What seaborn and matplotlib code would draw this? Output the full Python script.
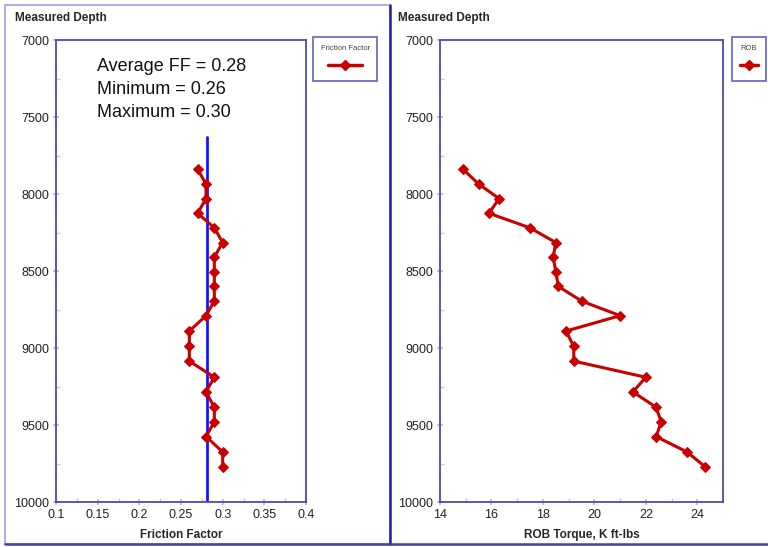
import pandas as pd
import matplotlib.pyplot as plt
import seaborn as sns
from matplotlib.lines import Line2D
from matplotlib.ticker import MultipleLocator

sns.set_theme(style="white")
plt.rcParams['font.family'] = ['Liberation Sans', 'DejaVu Sans']

# depth readings (ft) and the two logs
depth = [7840, 7935, 8030, 8125, 8220, 8315, 8410, 8505, 8600, 8695, 8790,
         8890, 8990, 9085, 9190, 9285, 9385, 9480, 9575, 9675, 9770]
friction = [0.27, 0.28, 0.28, 0.27, 0.29, 0.30, 0.29, 0.29, 0.29, 0.29, 0.28,
            0.26, 0.26, 0.26, 0.29, 0.28, 0.29, 0.29, 0.28, 0.30, 0.30]
rob_torque = [14.9, 15.5, 16.3, 15.9, 17.5, 18.5, 18.4, 18.5, 18.6, 19.5, 21.0,
              18.9, 19.2, 19.2, 22.0, 21.5, 22.4, 22.6, 22.4, 23.6, 24.3]
avg_ff = 0.281
avg_top = 7630

df = pd.DataFrame({'depth': depth, 'ff': friction, 'rob': rob_torque})

RED = '#c80000'
FRAME = '#4a4ab8'

fig = plt.figure(figsize=(7.68, 5.47), dpi=100)
ax1 = fig.add_axes([56/768, 1 - 502/547, 250/768, 462/547])
ax2 = fig.add_axes([440/768, 1 - 502/547, 283/768, 462/547])

line_kw = dict(orient='y', sort=False, estimator=None, color=RED, linewidth=2.2,
               marker='D', markersize=5, markeredgecolor=RED, legend=False)
sns.lineplot(data=df, x='ff', y='depth', ax=ax1, **line_kw)
sns.lineplot(data=df, x='rob', y='depth', ax=ax2, **line_kw)

ax1.plot([avg_ff, avg_ff], [avg_top, 10000], color='#1515ff', linewidth=2, zorder=1)

ax1.set_xlim(0.1, 0.4)
ax1.xaxis.set_minor_locator(MultipleLocator(0.025))
ax1.set_xticks([0.1, 0.15, 0.2, 0.25, 0.3, 0.35, 0.4])
ax1.set_xticklabels(['0.1', '0.15', '0.2', '0.25', '0.3', '0.35', '0.4'])
ax2.set_xlim(14, 25)
ax2.set_xticks([14, 16, 18, 20, 22, 24])
ax2.xaxis.set_minor_locator(MultipleLocator(1))

for ax, xl in [(ax1, 'Friction Factor'), (ax2, 'ROB Torque, K ft-lbs')]:
    ax.set_ylim(10000, 7000)
    ax.set_yticks(range(7000, 10001, 500))
    ax.yaxis.set_minor_locator(MultipleLocator(250))
    ax.tick_params(axis='both', which='major', labelsize=9, length=4,
                   color='#b8b8d8', direction='inout', pad=3, labelcolor='#222222')
    ax.tick_params(axis='both', which='minor', length=3, color='#c8c8e0',
                   direction='in')
    ax.tick_params(axis='x', bottom=True, which='both')
    ax.tick_params(axis='y', left=True, which='both')
    for s in ax.spines.values():
        s.set_color(FRAME)
        s.set_linewidth(1.3)
    ax.set_xlabel(xl, fontsize=8.5, fontweight='bold', labelpad=6)
    ax.set_ylabel('')

ax1.text(0.164, 0.961, 'Average FF = 0.28\nMinimum = 0.26\nMaximum = 0.30',
         transform=ax1.transAxes, fontsize=13, va='top', ha='left',
         linespacing=1.45, color='#111111')

fig.text(15/768, 1 - 18/547, 'Measured Depth', fontsize=8.5, fontweight='bold',
         va='center', ha='left')
fig.text(398/768, 1 - 18/547, 'Measured Depth', fontsize=8.5, fontweight='bold',
         va='center', ha='left')

# legends
for ax, title, anchor, hl in [(ax1, 'Friction Factor', (1.028, 1.006), 2.2),
                              (ax2, 'ROB', (1.032, 1.006), 1.2)]:
    h = Line2D([], [], color=RED, linewidth=2.5, marker='D', markersize=5)
    leg = ax.legend([h], [''], title=title, loc='upper left',
                    bbox_to_anchor=anchor, borderaxespad=0, frameon=True,
                    fancybox=False, handlelength=hl, handletextpad=0,
                    borderpad=0.5, title_fontsize=5.5)
    leg.get_title().set_color('#444444')
    leg.get_frame().set_edgecolor(FRAME)
    leg.get_frame().set_linewidth(1.3)

# outer panel frames
fig.add_artist(plt.Rectangle((5/768, 3/547), 385/768, 539/547,
                             transform=fig.transFigure, fill=False,
                             edgecolor='#a0a0dc', linewidth=1.2))
fig.add_artist(Line2D([390/768, 390/768], [3/547, 1 - 5/547],
                      transform=fig.transFigure, color='#2020a0', linewidth=1.8))
fig.add_artist(Line2D([5/768, 1], [3/547, 3/547],
                      transform=fig.transFigure, color='#4040b0', linewidth=1.8))

fig.savefig('out.png', dpi=100)
